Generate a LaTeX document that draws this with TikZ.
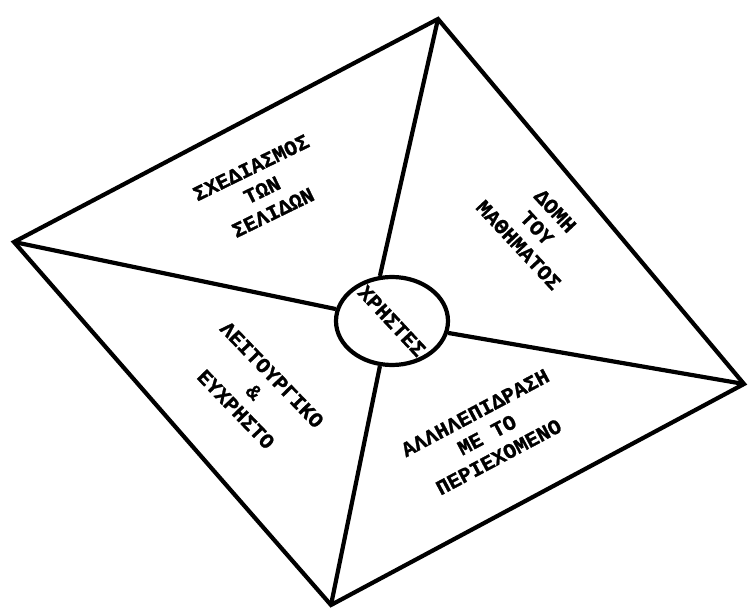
\documentclass[tikz,border=0pt]{standalone}
\usepackage{fontspec}
\newfontfamily\greekmono{Liberation Mono}[BoldFeatures={FakeBold=1.2}]
\usetikzlibrary{shapes.geometric}

\begin{document}
\begin{tikzpicture}[x=1pt,y=-1pt,line width=4.2pt,line join=miter,
  lbl/.style={font=\greekmono\bfseries\fontsize{21}{25}\selectfont,align=center,inner sep=0pt}]
\useasboundingbox (0,0) rectangle (748,612);
\coordinate (T) at (438,19);\coordinate (L) at (14,242);
\coordinate (B) at (331,605);\coordinate (R) at (744,384);
\draw (T)--(R)--(B)--(L)--cycle;
\node[draw,ellipse,minimum width=112pt,minimum height=88pt,inner sep=0pt] (users) at (392,321){};
\node[lbl,rotate=-47] (usersLbl) at (users){ΧΡΗΣΤΕΣ};
\draw (T)--(users.105);\draw (L)--(users.168);
\draw (R)--(users.348);\draw (B)--(users.255);
\node[lbl,rotate=26] (pages) at (262,190){ΣΧΕΔΙΑΣΜΟΣ\\ΤΩΝ\\ΣΕΛΙΔΩΝ};
\node[lbl,rotate=-47] (course) at (537,228){ΔΟΜΗ\\ΤΟΥ\\ΜΑΘΗΜΑΤΟΣ};
\node[lbl,rotate=-46] (usable) at (254,392){ΛΕΙΤΟΥΡΓΙΚΟ\\\&\\ΕΥΧΡΗΣΤΟ};
\node[lbl,rotate=28] (content) at (487,435){ΑΛΛΗΛΕΠΙΔΡΑΣΗ\\ΜΕ ΤΟ\\ΠΕΡΙΕΧΟΜΕΝΟ};
\end{tikzpicture}
\end{document}
